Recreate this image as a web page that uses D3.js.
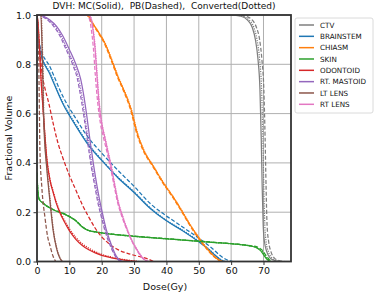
<!DOCTYPE html>
<html>
<head>
<meta charset="utf-8">
<script src="https://cdn.jsdelivr.net/npm/d3@7"></script>
<style>
  body { margin: 0; background: #fff; }
  text { font-family: "DejaVu Sans", sans-serif; fill: #111; }
</style>
</head>
<body>
<div id="chart"></div>
<script>
// structures in legend order
const structures = ["CTV", "BRAINSTEM", "CHIASM", "SKIN", "ODONTOID", "RT. MASTOID", "LT LENS", "RT LENS"];
const colors = ["#7f7f7f", "#1f77b4", "#ff7f0e", "#2ca02c", "#d62728", "#9467bd", "#8c564b", "#e377c2"];
const xTicks = [0, 10, 20, 30, 40, 50, 60, 70];
const yTicks = [0, 0.2, 0.4, 0.6, 0.8, 1.0];

// [dose Gy, fractional volume]
const ctvMC = [[0,1],[60,1],[63,0.995],[65,0.98],[66.5,0.95],[67.5,0.9],[68.3,0.82],[68.9,0.7],[69.3,0.5],[69.6,0.3],[69.9,0.15],[70.3,0.08],[71,0.04],[72,0.015],[73.5,0.004],[75,0]];
const ctvPB = [[0,1],[61.5,1],[64.5,0.995],[66.5,0.98],[67.8,0.95],[68.8,0.9],[69.5,0.82],[70.1,0.7],[70.5,0.5],[70.8,0.3],[71.1,0.15],[71.6,0.08],[72.3,0.04],[73.3,0.015],[74.8,0.004],[76.5,0]];
const ctvConv = [[0,1],[60.5,1],[63.5,0.995],[65.5,0.98],[67,0.95],[68,0.9],[68.8,0.82],[69.4,0.7],[69.8,0.5],[70.1,0.3],[70.4,0.15],[70.8,0.08],[71.5,0.04],[72.6,0.015],[74,0.004],[75.6,0]];

const brainMC = [[0,1],[0.3,0.92],[1,0.85],[4,0.76],[8,0.64],[12,0.55],[16,0.47],[20,0.41],[25,0.34],[30,0.28],[35,0.215],[40,0.165],[45,0.125],[50,0.08],[53,0.05],[55.5,0.02],[57,0.005],[58,0]];
const brainPB = [[0,1],[0.3,0.93],[1,0.87],[4,0.79],[8,0.67],[12,0.58],[16,0.5],[20,0.44],[25,0.37],[30,0.305],[35,0.235],[40,0.185],[45,0.14],[50,0.095],[54,0.055],[57,0.02],[59,0.005],[60.5,0]];
const brainConv = [[0,1],[0.3,0.92],[1,0.855],[4,0.765],[8,0.645],[12,0.555],[16,0.475],[20,0.413],[25,0.343],[30,0.283],[35,0.218],[40,0.167],[45,0.127],[50,0.082],[53,0.052],[55.5,0.021],[57.2,0.005],[58.3,0]];

const chiasmMC = [[0,1],[15.5,1],[17,0.97],[19,0.93],[21,0.885],[23,0.82],[25,0.75],[27,0.69],[29,0.62],[31,0.52],[33,0.45],[36,0.385],[39,0.32],[42,0.263],[45,0.2],[47,0.155],[49,0.115],[51,0.078],[53,0.045],[55,0.018],[56.5,0.004],[57.5,0]];
const chiasmPB = [[0,1],[15.3,1],[16.8,0.97],[18.8,0.93],[20.8,0.885],[22.8,0.82],[24.8,0.75],[26.8,0.69],[28.8,0.62],[30.8,0.52],[32.8,0.45],[35.8,0.385],[38.8,0.32],[41.8,0.263],[44.8,0.2],[46.8,0.155],[48.8,0.115],[50.8,0.078],[52.8,0.045],[54.8,0.018],[56.3,0.004],[57.3,0]];
const chiasmConv = [[0,1],[15.6,1],[17.1,0.97],[19.1,0.93],[21.1,0.885],[23.1,0.82],[25.1,0.75],[27.1,0.69],[29.1,0.62],[31.1,0.52],[33.1,0.45],[36.1,0.385],[39.1,0.32],[42.1,0.263],[45.1,0.2],[47.1,0.155],[49.1,0.115],[51.1,0.078],[53.1,0.045],[55.1,0.018],[56.6,0.004],[57.6,0]];

const skinMC = [[0,0.36],[0.2,0.3],[0.6,0.255],[2,0.235],[5,0.21],[8,0.195],[10,0.182],[12,0.165],[14,0.14],[15.5,0.128],[18,0.12],[21,0.114],[25,0.108],[30,0.102],[35,0.097],[40,0.092],[45,0.087],[50,0.082],[55,0.077],[60,0.072],[65,0.065],[67.5,0.058],[69,0.045],[70,0.028],[71,0.01],[72,0]];
const skinPB = [[0,0.36],[0.2,0.3],[0.6,0.255],[2,0.236],[5,0.211],[8,0.196],[10,0.183],[12,0.166],[14,0.141],[15.5,0.129],[18,0.121],[21,0.115],[25,0.109],[30,0.103],[35,0.098],[40,0.093],[45,0.088],[50,0.083],[55,0.078],[60,0.073],[65,0.066],[68,0.059],[69.6,0.046],[70.6,0.028],[71.6,0.01],[72.6,0]];
const skinConv = [[0,0.36],[0.2,0.3],[0.6,0.255],[2,0.235],[5,0.21],[8,0.195],[10,0.182],[12,0.165],[14,0.14],[15.5,0.128],[18,0.12],[21,0.114],[25,0.108],[30,0.102],[35,0.097],[40,0.092],[45,0.087],[50,0.082],[55,0.077],[60,0.072],[65,0.065],[67.7,0.058],[69.3,0.045],[70.3,0.028],[71.3,0.01],[72.3,0]];

const odontMC = [[0,1],[0.3,0.97],[0.7,0.88],[1.2,0.75],[1.8,0.63],[2.5,0.5],[3,0.42],[4,0.33],[5,0.28],[6,0.235],[7,0.2],[8.5,0.16],[10,0.125],[12,0.09],[14,0.065],[16,0.048],[18,0.035],[20,0.025],[23,0.015],[27,0.006],[31,0]];
const odontPB = [[0,1],[0.3,0.95],[0.8,0.87],[1.5,0.77],[2.5,0.7],[3.5,0.65],[5,0.56],[6.5,0.48],[8,0.42],[10,0.35],[12,0.29],[14,0.23],[16,0.18],[18,0.135],[20,0.1],[22,0.075],[25,0.048],[28,0.033],[31,0.022],[34,0.012],[36,0]];
const odontConv = [[0,1],[0.3,0.97],[0.7,0.885],[1.2,0.755],[1.8,0.635],[2.5,0.505],[3,0.425],[4,0.335],[5,0.285],[6,0.24],[7,0.206],[8.5,0.167],[10,0.133],[12,0.098],[14,0.072],[16,0.054],[18,0.04],[20,0.029],[23,0.018],[27,0.008],[31.5,0]];

const mastMC = [[0,1],[1,1],[2,0.995],[4,0.98],[6,0.955],[8,0.915],[10,0.86],[12,0.8],[13.5,0.74],[14.5,0.67],[15.5,0.58],[16.5,0.48],[17.5,0.39],[18.5,0.31],[19.5,0.24],[20.5,0.18],[21.5,0.125],[22.5,0.085],[23.5,0.05],[24.5,0.022],[25.5,0.006],[26.5,0]];
const mastPB = [[0,1],[0.6,1],[1.5,0.995],[3.2,0.98],[5.1,0.955],[7.1,0.915],[9,0.86],[11,0.8],[12.5,0.74],[13.5,0.67],[14.6,0.58],[15.7,0.48],[16.7,0.39],[17.8,0.31],[18.8,0.24],[19.9,0.18],[21,0.125],[22,0.085],[23.1,0.05],[24.2,0.022],[25.2,0.006],[26.2,0]];
const mastConv = [[0,1],[0.8,1],[1.7,0.995],[3.6,0.98],[5.5,0.955],[7.5,0.915],[9.4,0.86],[11.4,0.8],[12.9,0.74],[13.9,0.67],[14.9,0.58],[16,0.48],[17,0.39],[18.1,0.31],[19.1,0.24],[20.2,0.18],[21.2,0.125],[22.3,0.085],[23.3,0.05],[24.3,0.022],[25.3,0.006],[26.3,0]];

const ltLensMC = [[0,1],[1.2,1],[1.5,0.9],[1.8,0.75],[2,0.6],[2.3,0.5],[3,0.38],[4,0.245],[5,0.125],[6,0.055],[7,0.015],[7.8,0]];
const ltLensPB = [[0,1],[0.3,0.95],[0.5,0.85],[0.7,0.65],[0.9,0.45],[1.5,0.3],[2.5,0.175],[3.3,0.1],[4,0.065],[5,0.02],[5.8,0]];
const ltLensConv = [[0,1],[1.3,1],[1.6,0.9],[1.9,0.75],[2.1,0.6],[2.4,0.5],[3.1,0.38],[4.1,0.245],[5.1,0.125],[6.1,0.055],[7.1,0.015],[7.9,0]];

const rtLensMC = [[0,1],[16,1],[16.8,0.98],[17.4,0.93],[17.9,0.87],[18.5,0.76],[19.2,0.64],[20,0.56],[21,0.5],[22,0.44],[23,0.38],[24,0.31],[25,0.245],[26.5,0.18],[28,0.125],[29.5,0.08],[31,0.045],[32.3,0.02],[33.5,0.005],[34.5,0]];
const rtLensPB = [[0,1],[15.5,1],[16.3,0.98],[16.9,0.93],[17.4,0.87],[18,0.76],[18.8,0.64],[19.6,0.56],[20.6,0.5],[21.7,0.44],[22.7,0.38],[23.8,0.31],[24.8,0.245],[26.3,0.18],[27.9,0.125],[29.4,0.08],[30.9,0.045],[32.2,0.02],[33.4,0.005],[34.4,0]];
const rtLensConv = [[0,1],[16.1,1],[16.9,0.98],[17.5,0.93],[18,0.87],[18.6,0.76],[19.3,0.64],[20.1,0.56],[21.1,0.5],[22.1,0.44],[23.1,0.38],[24.1,0.31],[25.1,0.245],[26.6,0.18],[28.1,0.125],[29.6,0.08],[31.1,0.045],[32.4,0.02],[33.6,0.005],[34.6,0]];

const curves = [
  [ctvMC, ctvPB, ctvConv],
  [brainMC, brainPB, brainConv],
  [chiasmMC, chiasmPB, chiasmConv],
  [skinMC, skinPB, skinConv],
  [odontMC, odontPB, odontConv],
  [mastMC, mastPB, mastConv],
  [ltLensMC, ltLensPB, ltLensConv],
  [rtLensMC, rtLensPB, rtLensConv]
];
const dashes = [null, "4,2", "1.2,1.2"];

const width = 375, height = 294;
const plot = { left: 37, right: 291, top: 15, bottom: 261.5 };

const svg = d3.select("#chart").append("svg")
  .attr("width", width)
  .attr("height", height);

const x = d3.scaleLinear().domain([0, 78.5]).range([plot.left, plot.right]);
const y = d3.scaleLinear().domain([0, 1]).range([plot.bottom, plot.top]);

// Grid lines
svg.append("g")
  .selectAll("line.vg")
  .data(xTicks)
  .enter().append("line")
  .attr("x1", d => x(d)).attr("x2", d => x(d))
  .attr("y1", plot.top).attr("y2", plot.bottom)
  .attr("stroke", "#b0b0b0").attr("stroke-width", 1);

svg.append("g")
  .selectAll("line.hg")
  .data(yTicks)
  .enter().append("line")
  .attr("x1", plot.left).attr("x2", plot.right)
  .attr("y1", d => y(d)).attr("y2", d => y(d))
  .attr("stroke", "#b0b0b0").attr("stroke-width", 1);

svg.append("clipPath").attr("id", "clip")
  .append("rect")
  .attr("x", plot.left).attr("y", plot.top)
  .attr("width", plot.right - plot.left).attr("height", plot.bottom - plot.top);

const line = d3.line()
  .x(d => x(d[0]))
  .y(d => y(d[1]))
  .curve(d3.curveMonotoneX);

const curveG = svg.append("g").attr("clip-path", "url(#clip)");
curves.forEach((set, i) => {
  set.forEach((pts, j) => {
    curveG.append("path")
      .datum(pts)
      .attr("fill", "none")
      .attr("stroke", colors[i])
      .attr("stroke-width", 1.25)
      .attr("stroke-dasharray", dashes[j])
      .attr("d", line);
  });
});

// Axes
const xAxis = svg.append("g")
  .attr("transform", `translate(0,${plot.bottom})`)
  .call(d3.axisBottom(x).tickValues(xTicks).tickSize(3.5).tickPadding(2.5));
const yAxis = svg.append("g")
  .attr("transform", `translate(${plot.left},0)`)
  .call(d3.axisLeft(y).tickValues(yTicks).tickFormat(d3.format(".1f")).tickSize(3.5).tickPadding(2.5));

[xAxis, yAxis].forEach(a => {
  a.select(".domain").remove();
  a.selectAll("line").attr("stroke", "#333").attr("stroke-width", 1);
  a.selectAll("text")
    .style("font-family", "DejaVu Sans, sans-serif")
    .style("font-size", "9.5px")
    .attr("fill", "#111");
});

// Frame
svg.append("rect")
  .attr("x", plot.left).attr("y", plot.top)
  .attr("width", plot.right - plot.left).attr("height", plot.bottom - plot.top)
  .attr("fill", "none")
  .attr("stroke", "#333")
  .attr("stroke-width", 1.8);

// Labels
svg.append("text")
  .attr("x", (plot.left + plot.right) / 2)
  .attr("y", 9)
  .attr("text-anchor", "middle")
  .style("font-size", "9px")
  .style("white-space", "pre")
  .text("DVH: MC(Solid),  PB(Dashed),  Converted(Dotted)");

svg.append("text")
  .attr("x", (plot.left + plot.right) / 2 + 1)
  .attr("y", 289.5)
  .attr("text-anchor", "middle")
  .style("font-size", "9.5px")
  .text("Dose(Gy)");

svg.append("text")
  .attr("transform", "rotate(-90)")
  .attr("x", -138)
  .attr("y", 12)
  .attr("text-anchor", "middle")
  .style("font-size", "9.5px")
  .text("Fractional Volume");

// Legend
const legendBox = svg.append("g");
legendBox.append("rect")
  .attr("x", 295).attr("y", 18)
  .attr("width", 78).attr("height", 95)
  .attr("rx", 2)
  .attr("fill", "#fff")
  .attr("stroke", "#d0d0d0")
  .attr("stroke-width", 0.8);

const legend = legendBox.selectAll(".legend")
  .data(structures)
  .enter().append("g")
  .attr("class", "legend")
  .attr("transform", (d, i) => `translate(299, ${25 + i * 11.33})`);

legend.append("line")
  .attr("x1", 0).attr("x2", 15)
  .attr("stroke", (d, i) => colors[i])
  .attr("stroke-width", 1.5);

legend.append("text")
  .attr("x", 21)
  .attr("y", 2.6)
  .style("font-size", "7.2px")
  .text(d => d);
</script>
</body>
</html>
